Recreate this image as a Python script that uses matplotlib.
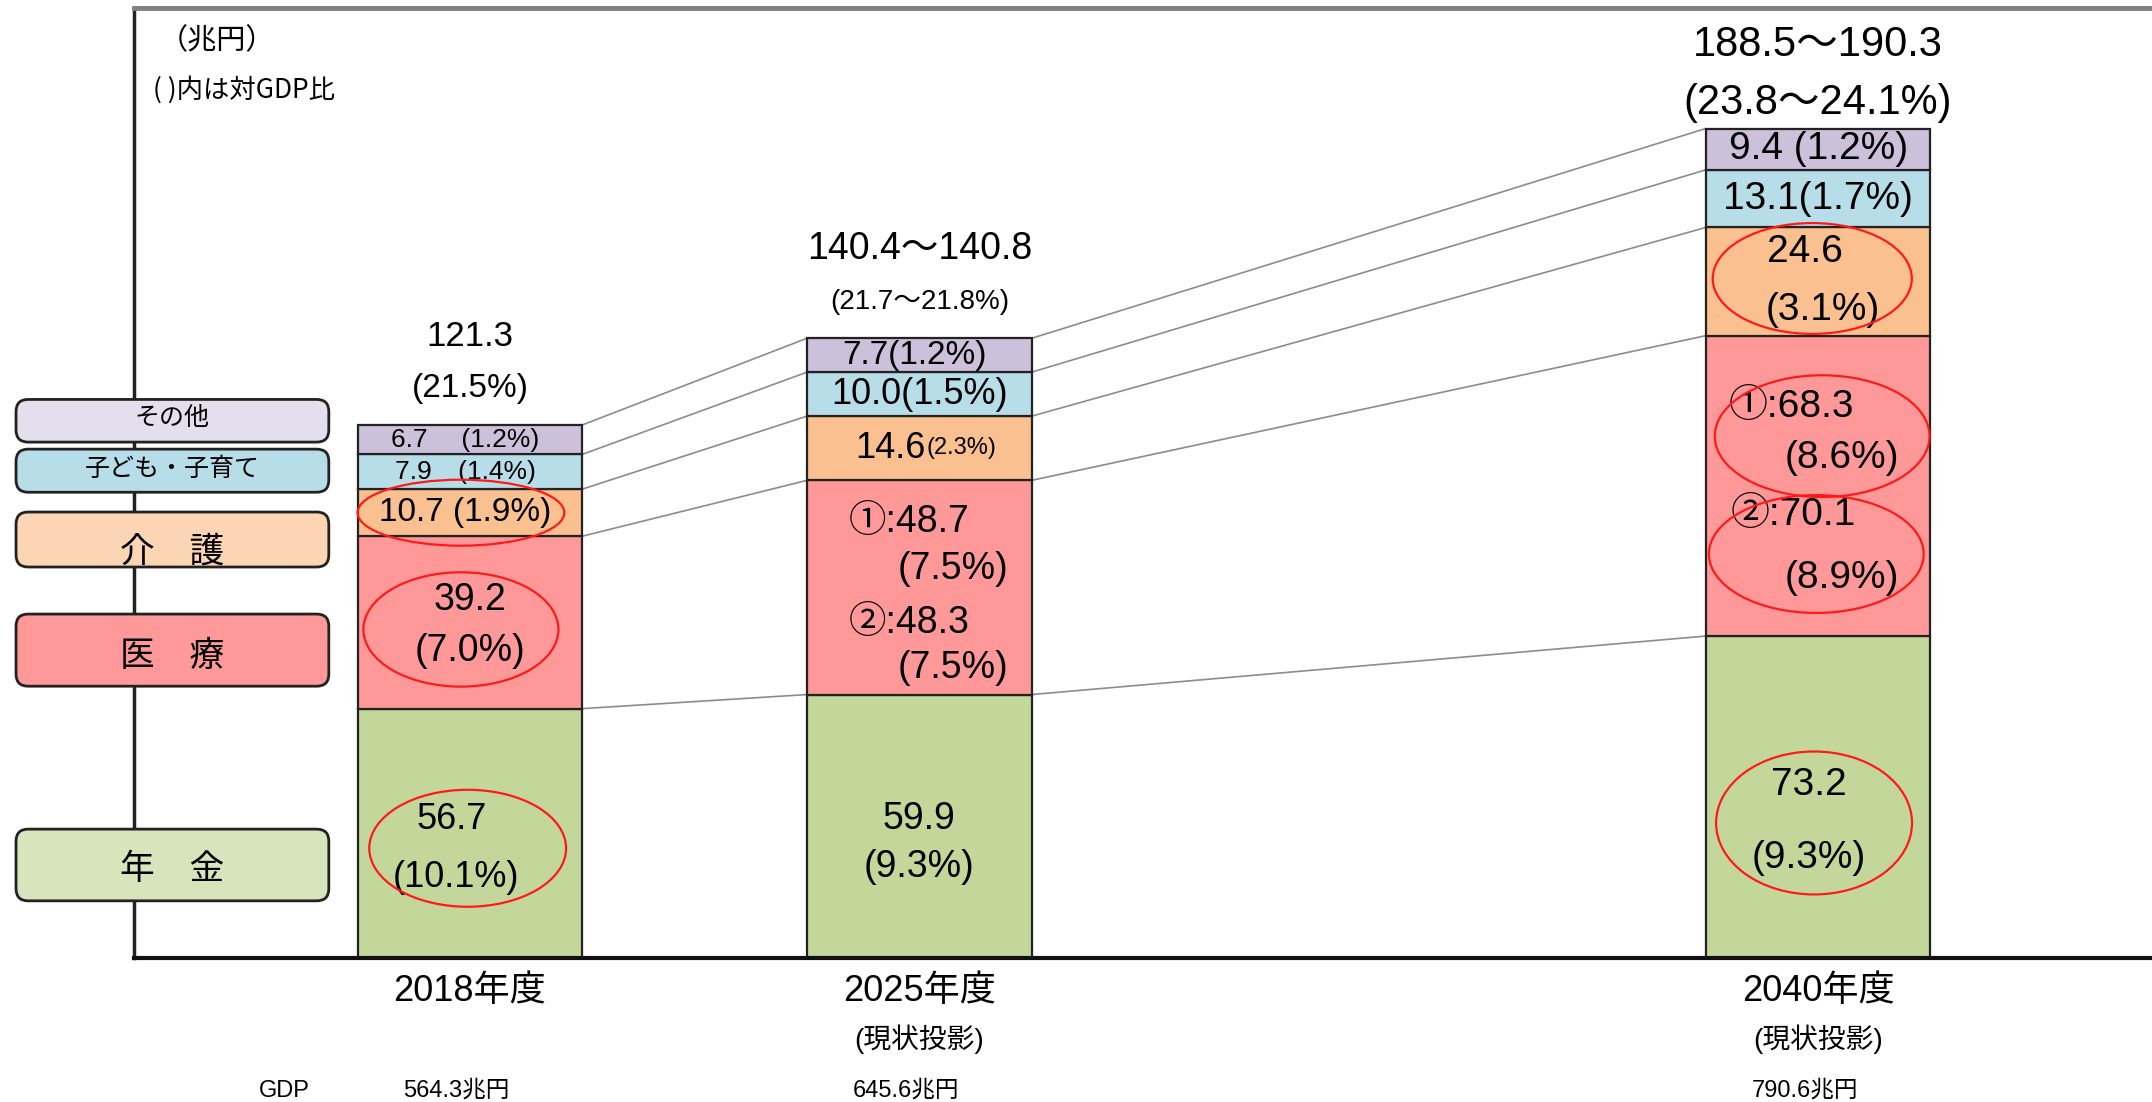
import numpy as np
import matplotlib.pyplot as plt
from matplotlib import font_manager as fm
from matplotlib.patches import Ellipse, FancyBboxPatch

# ──────────────────────────────────────────────────────────────
# Données (兆円)
# ──────────────────────────────────────────────────────────────
years     = ['2018年度', '2025年度', '2040年度']
subtitles = ['', '(現状投影)', '(現状投影)']
gdp       = ['564.3兆円', '645.6兆円', '790.6兆円']
x_pos     = [0, 1, 3]

categories = ['年　金', '医　療', '介　護', '子ども・子育て', 'その他']
pension    = [56.7, 59.9, 73.2]
medical    = [39.2, 48.7, 68.3]     # 2025 / 2040 : valeur ①
care       = [10.7, 14.6, 24.6]
children   = [7.9, 10.0, 13.1]
other      = [6.7, 7.7, 9.4]

totals    = ['121.3', '140.4～140.8', '188.5～190.3']
total_pct = ['(21.5%)', '(21.7～21.8%)', '(23.8～24.1%)']

seg_colors    = ['#C4D79B', '#FF9999', '#FAC090', '#B7DEE8', '#CCC0DA']
legend_colors = ['#D8E4BC', '#FF9999', '#FCD5B4', '#B7DEE8', '#E4DFEC']

# ──────────────────────────────────────────────────────────────
# Polices
# ──────────────────────────────────────────────────────────────
_names = {f.name for f in fm.fontManager.ttflist}
NARROW = 'Liberation Sans Narrow' if 'Liberation Sans Narrow' in _names else 'Liberation Sans'
plt.rcParams['font.family'] = ['Liberation Sans', 'Noto Sans CJK JP', 'DejaVu Sans']
NARROW_FAM = [NARROW, 'Noto Sans CJK JP', 'DejaVu Sans']
JP_FAM = ['Noto Sans CJK JP', 'DejaVu Sans']

fig = plt.figure(figsize=(21.52, 11.02), dpi=100)
ax = fig.add_axes([134 / 2152, 144 / 1102, 2018 / 2152, 950 / 1102])
ax.set_xlim(-0.7475, 3.743)
ax.set_ylim(0, 216)
ax.set_xticks([])
ax.set_yticks([])
ax.spines['right'].set_visible(False)
ax.spines['left'].set_color('#222222')
ax.spines['left'].set_linewidth(2.5)
ax.spines['top'].set_color('#808080')
ax.spines['top'].set_linewidth(3.5)
ax.spines['bottom'].set_color('#111111')
ax.spines['bottom'].set_linewidth(3)

# ──────────────────────────────────────────────────────────────
# Barres empilées
# ──────────────────────────────────────────────────────────────
values  = np.array([pension, medical, care, children, other])
tops    = np.cumsum(values, axis=0)
bottoms = tops - values
mids    = bottoms + values / 2
W = 0.5

for i in range(len(categories)):
    ax.bar(x_pos, values[i], W, bottom=bottoms[i], color=seg_colors[i],
           edgecolor='#222222', linewidth=1.6, zorder=2)

# lignes de liaison entre barres
for a, b in [(0, 1), (1, 2)]:
    for i in range(len(categories)):
        ax.plot([x_pos[a] + W / 2, x_pos[b] - W / 2], [tops[i, a], tops[i, b]],
                color='#8c8c8c', lw=1.2, zorder=1)


def label(x, y, s, size, **kw):
    kw.setdefault('ha', 'center')
    ax.text(x, y, s, fontsize=size, va='center', zorder=5, **kw)


def ring(x, y, w, h):
    ax.add_patch(Ellipse((x, y), w, h, fill=False, edgecolor='#FF1A1A',
                         lw=1.6, zorder=6))


# totaux au-dessus des barres
label(x_pos[0], tops[4, 0] + 20.2, totals[0], 25)
label(x_pos[0], tops[4, 0] + 8.3, total_pct[0], 24)
label(x_pos[1], tops[4, 1] + 20.2, totals[1], 27)
label(x_pos[1], tops[4, 1] + 8.2, total_pct[1], 20)
label(x_pos[2], tops[4, 2] + 19.1, totals[2], 30)
label(x_pos[2], tops[4, 2] + 5.9, total_pct[2], 30)

# 2018
x = x_pos[0]
label(x - 0.01, mids[4, 0], '6.7　 (1.2%)', 19, family=NARROW_FAM)
label(x - 0.01, mids[3, 0], '7.9　(1.4%)', 19, family=NARROW_FAM)
label(x - 0.01, mids[2, 0], '10.7 (1.9%)', 24, family=NARROW_FAM)
ring(x - 0.02, mids[2, 0], 0.46, 15)
label(x, mids[1, 0] + 5.2, '39.2', 27, family=NARROW_FAM)
label(x, mids[1, 0] - 6.6, '(7.0%)', 27, family=NARROW_FAM)
ring(x - 0.02, mids[1, 0] - 1.6, 0.434, 26)
label(x - 0.04, mids[0, 0] + 3.2, '56.7', 26, family=NARROW_FAM)
label(x - 0.03, mids[0, 0] - 10, '(10.1%)', 26, family=NARROW_FAM)
ring(x - 0.005, mids[0, 0] - 3.4, 0.438, 26.6)

# 2025
x = x_pos[1]
label(x - 0.01, mids[4, 1], '7.7(1.2%)', 24)
label(x, mids[3, 1], '10.0(1.5%)', 26)
label(x + 0.015, mids[2, 1], '14.6', 26, ha='right')
label(x + 0.015, mids[2, 1], '(2.3%)', 17, ha='left')
label(x - 0.158, mids[1, 1] + 14.8, '①:48.7', 27, ha='left')
label(x - 0.049, mids[1, 1] + 4.3, '(7.5%)', 27, ha='left')
label(x - 0.158, mids[1, 1] - 8.0, '②:48.3', 27, ha='left')
label(x - 0.049, mids[1, 1] - 18.4, '(7.5%)', 27, ha='left')
label(x, mids[0, 1] + 1.6, '59.9', 27)
label(x, mids[0, 1] - 9.3, '(9.3%)', 27)

# 2040
x = x_pos[2]
label(x, mids[4, 2], '9.4 (1.2%)', 28)
label(x, mids[3, 2], '13.1(1.7%)', 28)
label(x - 0.03, mids[2, 2] + 6.7, '24.6', 28)
label(x + 0.01, mids[2, 2] - 6.5, '(3.1%)', 28)
ring(x - 0.013, mids[2, 2] + 0.7, 0.443, 25.2)
label(x - 0.2, mids[1, 2] + 17.9, '①:68.3', 28, ha='left')
label(x + 0.053, mids[1, 2] + 6.3, '(8.6%)', 28)
ring(x + 0.009, mids[1, 2] + 11.3, 0.478, 27.7)
label(x - 0.195, mids[1, 2] - 6.7, '②:70.1', 28, ha='left')
label(x + 0.053, mids[1, 2] - 21, '(8.9%)', 28)
ring(x - 0.004, mids[1, 2] - 15.5, 0.478, 26.8)
label(x - 0.02, mids[0, 2] + 2.7, '73.2', 28)
label(x - 0.02, mids[0, 2] - 13.9, '(9.3%)', 28)
ring(x - 0.009, mids[0, 2] - 5.9, 0.436, 32.5)

# ──────────────────────────────────────────────────────────────
# Légende à gauche (boîtes arrondies)
# ──────────────────────────────────────────────────────────────
legend_boxes = [(13.0, 16.3), (61.8, 16.4), (88.9, 12.5), (105.9, 9.8), (117.3, 9.7)]
legend_sizes = [25, 25, 25, 18, 18]
legend_dy    = [-1.1, -1.4, -2.8, 0.4, 0.6]
bx0, bw = -1.01, 0.696
for i, (y0, h) in enumerate(legend_boxes):
    box = FancyBboxPatch((bx0, y0), bw, h,
                         boxstyle='round,pad=0,rounding_size=0.027',
                         mutation_aspect=102, facecolor=legend_colors[i],
                         edgecolor='#222222', lw=2, clip_on=False, zorder=4)
    ax.add_patch(box)
    ax.text(bx0 + bw / 2, y0 + h / 2 + legend_dy[i], categories[i],
            fontsize=legend_sizes[i], family=JP_FAM, ha='center', va='center',
            zorder=5, clip_on=False)

# ──────────────────────────────────────────────────────────────
# Axe des x / textes
# ──────────────────────────────────────────────────────────────
for i, xp in enumerate(x_pos):
    ax.text(xp, -7.7, years[i], fontsize=26, family=NARROW_FAM, ha='center', va='center')
    if subtitles[i]:
        ax.text(xp, -18.4, subtitles[i], fontsize=20, family=NARROW_FAM,
                ha='center', va='center')
    ax.text(xp - 0.03, -30.2, gdp[i], fontsize=17, family=NARROW_FAM,
            ha='center', va='center')
ax.text(-0.414, -30.2, 'GDP', fontsize=17, family=NARROW_FAM, ha='center', va='center')

ax.text(0.041, 0.965, '（兆円）', transform=ax.transAxes, fontsize=21,
        family=JP_FAM, ha='center', va='center')
ax.text(0.0094, 0.914, '( )内は対GDP比', transform=ax.transAxes, fontsize=19,
        family=JP_FAM, ha='left', va='center')

fig.savefig('out.png', dpi=100)
